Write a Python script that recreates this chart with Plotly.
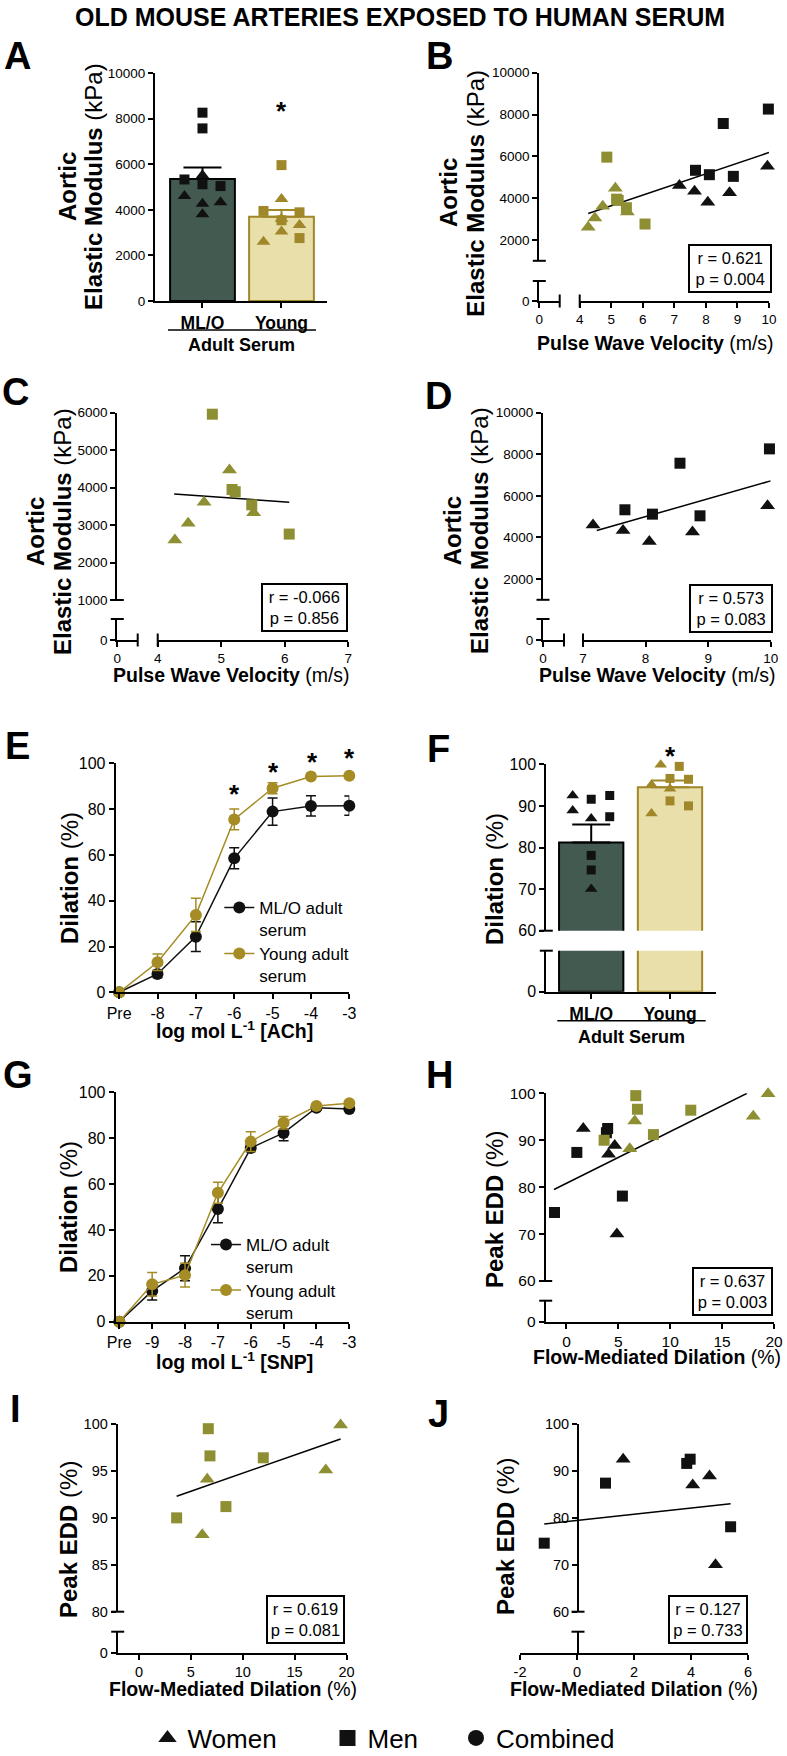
import plotly.graph_objects as go

# ============================ DATA ============================
GROUPS = ["ML/O", "Young"]

# Panel A: aortic elastic modulus (kPa), group mean and SEM
EM_MEAN = [5350, 3700]
EM_SEM = [510, 290]

# Individual subjects: pulse wave velocity (m/s) and aortic elastic modulus (kPa)
PWV_YOUNG_MEN = [4.86, 5.17, 5.22, 5.48, 6.07]
EM_YOUNG_MEN = [5960, 3950, 3890, 3540, 2760]
PWV_YOUNG_WOMEN = [4.27, 4.48, 4.73, 5.13, 5.51]
EM_YOUNG_WOMEN = [2600, 3050, 3610, 4470, 3330]
PWV_OLD_MEN = [7.67, 8.11, 8.55, 8.87, 9.98]
EM_OLD_MEN = [5330, 5120, 7570, 5040, 8260]
PWV_OLD_WOMEN = [7.16, 7.64, 8.06, 8.75, 9.95]
EM_OLD_WOMEN = [4600, 4330, 3800, 4260, 5520]

# Regression lines (end points)
FIT_B_X = [4.27, 10.0]
FIT_B_Y = [3260, 6180]
FIT_C_X = [4.26, 6.07]
FIT_C_Y = [3830, 3610]
FIT_D_X = [7.22, 10.0]
FIT_D_Y = [4330, 6720]

STATS_B = ("0.621", "0.004")
STATS_C = ("-0.066", "0.856")
STATS_D = ("0.573", "0.083")

# Panel E: ACh dose response (% dilation), mean and SEM
ACH_LABELS = ["Pre", "-8", "-7", "-6", "-5", "-4", "-3"]
ACH_MLO = [0, 8.0, 24.3, 58.5, 78.9, 81.4, 81.5]
ACH_MLO_SEM = [0, 1.5, 6.5, 4.6, 6.0, 4.4, 4.2]
ACH_YOUNG = [0, 13.1, 33.8, 75.5, 89.1, 94.2, 94.6]
ACH_YOUNG_SEM = [0, 3.6, 7.3, 4.5, 2.4, 1.0, 0.8]

# Panel F: peak EDD (%), group mean and SEM
EDD_MEAN = [81.2, 94.5]
EDD_SEM = [4.3, 1.6]

# Panel G: SNP dose response (% dilation), mean and SEM
SNP_LABELS = ["Pre", "-9", "-8", "-7", "-6", "-5", "-4", "-3"]
SNP_MLO = [0, 13.4, 23.3, 49.1, 75.7, 82.3, 93.3, 92.7]
SNP_MLO_SEM = [0, 3.9, 5.4, 6.0, 1.5, 3.4, 1.0, 1.0]
SNP_YOUNG = [0, 16.3, 20.3, 56.2, 78.5, 86.7, 94.0, 95.2]
SNP_YOUNG_SEM = [0, 5.1, 5.2, 4.6, 4.3, 2.7, 1.0, 1.0]

# Individual subjects: flow-mediated dilation (%) and peak EDD (%)
FMD_YOUNG_MEN = [6.68, 6.84, 11.98, 8.38, 3.63]
EDD_YOUNG_MEN = [99.5, 96.6, 96.4, 91.2, 90.0]
FMD_YOUNG_WOMEN = [19.43, 18.0, 6.58, 6.1]
EDD_YOUNG_WOMEN = [99.9, 95.1, 94.1, 88.2]
FMD_OLD_MEN = [-1.15, 1.0, 3.85, 3.97, 5.39]
EDD_OLD_MEN = [74.6, 87.4, 91.6, 92.5, 78.1]
FMD_OLD_WOMEN = [1.62, 4.06, 4.65, 4.86]
EDD_OLD_WOMEN = [92.5, 87.0, 88.9, 70.0]

FIT_H_X = [-1.2, 17.4]
FIT_H_Y = [79.5, 100.0]
FIT_I_X = [3.63, 19.43]
FIT_I_Y = [92.3, 98.4]
FIT_J_X = [-1.15, 5.39]
FIT_J_Y = [78.7, 83.0]

STATS_H = ("0.637", "0.003")
STATS_I = ("0.619", "0.081")
STATS_J = ("0.127", "0.733")

J_XTICKS = [-2, 0, 2, 4, 6]
LEGEND_ITEMS = ["Women", "Men", "Combined"]

# ============================ STYLE / LAYOUT ============================
W, H = 787, 1756
FONT = "Liberation Sans, Arial, Helvetica, sans-serif"
BLACK = "#111111"
DARK = "#435A51"
LIGHT = "#E9DFAA"
GOLD = "#A0882A"
OLIVE = "#8E8E33"
LGOLD = "#A58C25"

# jitter slots of the dots over the bars (A and F)
A_JIT_OLD_MEN = [-1, 0, 0, 1, 0]
A_JIT_OLD_WOMEN = [-1, 1, 0, 0, 0]
A_JIT_YOUNG_MEN = [0, -1, 1, 0, 1]
A_JIT_YOUNG_WOMEN = [-1, 0, 0, 0, 1]
F_JIT_OLD_MEN = [0, 1, 0, 1, 0]
F_JIT_OLD_WOMEN = [-1, 0, -1, 0]
F_JIT_YOUNG_MEN = [0.5, 0, 1, 0, 1]
F_JIT_YOUNG_WOMEN = [-0.5, -1, 0, -1]

traces = []
annotations = []
shapes = []
layout = dict(
    width=W, height=H,
    margin=dict(l=0, r=0, t=0, b=0, autoexpand=False),
    paper_bgcolor="white", plot_bgcolor="rgba(0,0,0,0)",
    font=dict(family=FONT, color="black"),
    showlegend=True, barmode="overlay",
    annotations=annotations, shapes=shapes,
)


def fx(p):
    return p / W


def fy(p):
    return 1.0 - p / H


AXIS_BASE = dict(showgrid=False, zeroline=False, showline=True, linecolor="black",
                 linewidth=2, ticks="outside", ticklen=5, tickwidth=2, tickcolor="black",
                 fixedrange=True, layer="above traces", tickformat="d")
_count = {"x": 0, "y": 0}


def tfont(size):
    return dict(size=size, family=FONT, color="black")


def new_axis(letter, **kw):
    _count[letter] += 1
    n = _count[letter]
    suf = "" if n == 1 else str(n)
    spec = dict(AXIS_BASE)
    spec.update(kw)
    layout[letter + "axis" + suf] = spec
    return letter + suf


def set_axis(ref, **kw):
    layout[ref[0] + "axis" + ref[1:]].update(kw)


def seg(x0, y0, x1, y1, w=2):
    shapes.append(dict(type="line", xref="paper", yref="paper", x0=fx(x0), y0=fy(y0),
                       x1=fx(x1), y1=fy(y1), line=dict(color="black", width=w), layer="above"))


def hcap(xc, y, half=6.5):
    seg(xc - half, y, xc + half, y)


def vcap(x, yc, half=6.5):
    seg(x, yc - half, x, yc + half)


def text(x, y, s, size, angle=0, xanchor="center", yanchor="middle", **kw):
    annotations.append(dict(x=fx(x), y=fy(y), xref="paper", yref="paper", text=s,
                            showarrow=False, font=tfont(size), textangle=angle,
                            xanchor=xanchor, yanchor=yanchor, **kw))


def star(x, y, size=26):
    text(x, y + 0.22 * size, "<b>*</b>", size)


def stat_box(left, right, bottom, stats, size=16.5):
    pad, bw = 3, 2
    annotations.append(dict(x=fx(right), y=fy(bottom), xref="paper", yref="paper",
                            text="r = %s<br>p = %s" % stats, showarrow=False,
                            font=tfont(size), xanchor="right", yanchor="bottom",
                            bordercolor="black", borderwidth=bw, borderpad=pad,
                            bgcolor="white", width=right - left - 2 * (pad + bw),
                            align="center"))


def dummy(xa, ya):
    traces.append(go.Scatter(x=[None], y=[None], xaxis=xa, yaxis=ya, mode="markers",
                             showlegend=False, hoverinfo="skip"))


def pts(xa, ya, x, y, symbol, color, size):
    traces.append(go.Scatter(x=x, y=y, xaxis=xa, yaxis=ya, mode="markers",
                             marker=dict(symbol=symbol, color=color, size=size, line=dict(width=0)),
                             cliponaxis=False, showlegend=False, hoverinfo="skip"))


def fit(xa, ya, x, y):
    traces.append(go.Scatter(x=x, y=y, xaxis=xa, yaxis=ya, mode="lines",
                             line=dict(color="black", width=1.5), cliponaxis=False,
                             showlegend=False, hoverinfo="skip"))


def corr_panel(axis_x, axis_y, up, stub_top, xmain, xstub=None, tick=13.5,
               stub_label="0", free_y=False, xticktext=None):
    top, bot, lo, hi, yt = up
    tf = tfont(tick)
    yu = new_axis("y", domain=[fy(bot), fy(top)], range=[lo, hi], tickvals=yt, tickfont=tf)
    ys = new_axis("y", domain=[fy(axis_y), fy(stub_top)], range=[0, 1],
                  tickvals=[0] if stub_label else [], ticktext=[stub_label] if stub_label else [],
                  tickfont=tf)
    ms, me, xr, xt = xmain
    xm = new_axis("x", domain=[fx(ms), fx(me)], range=xr, tickvals=xt, tickfont=tf, anchor=ys)
    if xticktext:
        set_axis(xm, ticktext=xticktext)
    if xstub:
        se, srange = xstub
        xs = new_axis("x", domain=[fx(axis_x), fx(se)], range=[0, srange], tickvals=[0],
                      ticktext=["0"], tickfont=tf, anchor=ys)
        set_axis(yu, anchor=xs)
        set_axis(ys, anchor=xs)
        dummy(xs, ys)
        dummy(xs, yu)
        dummy(xm, ys)
        vcap(se, axis_y)
        vcap(ms, axis_y)
    else:
        if free_y:
            set_axis(yu, anchor="free", position=fx(axis_x))
            set_axis(ys, anchor="free", position=fx(axis_x))
        else:
            set_axis(yu, anchor=xm)
            set_axis(ys, anchor=xm)
        dummy(xm, ys)
    hcap(axis_x, bot)
    hcap(axis_x, stub_top)
    return xm, yu


def sex_points(xa, ya, xm, ym, xw, yw, color, sq=11, tri=13):
    pts(xa, ya, xm, ym, "square", color, sq)
    pts(xa, ya, xw, yw, "triangle-up", color, tri)


def bars(xa, ya, means, sems, width, with_err):
    fills = [DARK, LIGHT]
    edges = ["black", GOLD]
    for i in range(len(GROUPS)):
        err = None
        if with_err:
            err = dict(type="data", array=[sems[i]], arrayminus=[0], symmetric=False,
                       color=edges[i], thickness=2, width=19)
        traces.append(go.Bar(x=[i], y=[means[i]], width=width, xaxis=xa, yaxis=ya,
                             marker=dict(color=fills[i], line=dict(color=edges[i], width=2)),
                             error_y=err, showlegend=False, hoverinfo="skip"))


def jit(base, slots, unit):
    return [base + s * unit for s in slots]


def curve(xa, ya, y, sem, color, name, legend):
    traces.append(go.Scatter(x=list(range(len(y))), y=y, xaxis=xa, yaxis=ya,
                             mode="lines+markers", name=name, legend=legend,
                             line=dict(color=color, width=1.5),
                             marker=dict(symbol="circle", size=12, color=color),
                             error_y=dict(type="data", array=sem, color=color, thickness=1.5, width=5),
                             cliponaxis=False, hoverinfo="skip", showlegend=True))


def legend_box(key, x_sym, y_top, size, yanchor="top"):
    layout[key] = dict(x=fx(x_sym - 20), y=fy(y_top), xanchor="left", yanchor=yanchor,
                       bgcolor="rgba(0,0,0,0)", borderwidth=0, font=tfont(size),
                       valign="top", itemclick=False, itemdoubleclick=False, tracegroupgap=0)


BOLD_GROUPS = ["<b>%s</b>" % g for g in GROUPS]
EM_TITLE = "<b>Elastic Modulus</b> (kPa)"
PWV_TITLE = "<b>Pulse Wave Velocity</b> (m/s)"
FMD_TITLE = "<b>Flow-Mediated Dilation</b> (%)"

# ---------------- title ----------------
text(400, 17, "<b>OLD MOUSE ARTERIES EXPOSED TO HUMAN SERUM</b>", 25)

# ---------------- Panel A ----------------
xa = new_axis("x", domain=[fx(155), fx(327)], range=[-0.601, 1.576], tickvals=[0, 1],
              ticktext=BOLD_GROUPS, tickfont=tfont(17.5))
ya = new_axis("y", domain=[fy(301), fy(73)], range=[0, 10000],
              tickvals=[0, 2000, 4000, 6000, 8000, 10000], tickfont=tfont(13.5))
set_axis(xa, anchor=ya)
set_axis(ya, anchor=xa)
bars(xa, ya, EM_MEAN, EM_SEM, 0.82, True)
JA = 0.228
sex_points(xa, ya, jit(0, A_JIT_OLD_MEN, JA), EM_OLD_MEN, jit(0, A_JIT_OLD_WOMEN, JA), EM_OLD_WOMEN, BLACK, 10, 12)
sex_points(xa, ya, jit(1, A_JIT_YOUNG_MEN, JA), EM_YOUNG_MEN, jit(1, A_JIT_YOUNG_WOMEN, JA), EM_YOUNG_WOMEN, GOLD, 10, 12)
star(281.5, 105)
seg(168, 330, 316, 330, 1.5)
text(241, 345, "<b>Adult Serum</b>", 18)
text(67, 187, "<b>Aortic</b>", 24, angle=-90)
text(93, 187, EM_TITLE, 24, angle=-90)
text(17.5, 56.5, "<b>A</b>", 38)

# ---------------- Panel B ----------------
xb, yb = corr_panel(539.3, 301, (72.7, 260.8, 1000, 10000, [2000, 4000, 6000, 8000, 10000]), 281,
                    (579.7, 769, [4, 10], [4, 5, 6, 7, 8, 9, 10]), xstub=(559.7, 0.65))
fit(xb, yb, FIT_B_X, FIT_B_Y)
sex_points(xb, yb, PWV_YOUNG_MEN, EM_YOUNG_MEN, PWV_YOUNG_WOMEN, EM_YOUNG_WOMEN, OLIVE)
sex_points(xb, yb, PWV_OLD_MEN, EM_OLD_MEN, PWV_OLD_WOMEN, EM_OLD_WOMEN, BLACK)
stat_box(687.3, 771.7, 293.3, STATS_B)
text(655, 343, PWV_TITLE, 19.5)
text(449, 193, "<b>Aortic</b>", 24, angle=-90)
text(475.7, 193, EM_TITLE, 24, angle=-90)
text(439, 56.5, "<b>B</b>", 38)

# ---------------- Panel C ----------------
xc, yc = corr_panel(117.3, 640, (412.7, 600, 1000, 6000, [1000, 2000, 3000, 4000, 5000, 6000]), 619,
                    (157.7, 348.3, [4, 7], [4, 5, 6, 7]), xstub=(137.7, 0.32))
fit(xc, yc, FIT_C_X, FIT_C_Y)
sex_points(xc, yc, PWV_YOUNG_MEN, EM_YOUNG_MEN, PWV_YOUNG_WOMEN, EM_YOUNG_WOMEN, OLIVE)
stat_box(261.7, 348.3, 631.7, STATS_C)
text(232, 675, PWV_TITLE, 19.5)
text(35, 532, "<b>Aortic</b>", 24, angle=-90)
text(62, 532, EM_TITLE, 24, angle=-90)
text(15, 391.5, "<b>C</b>", 38)

# ---------------- Panel D ----------------
xd, yd = corr_panel(543, 640, (412.7, 599.8, 1000, 10000, [2000, 4000, 6000, 8000, 10000]), 619,
                    (583, 770.7, [7, 10], [7, 8, 9, 10]), xstub=(564, 0.335))
fit(xd, yd, FIT_D_X, FIT_D_Y)
sex_points(xd, yd, PWV_OLD_MEN, EM_OLD_MEN, PWV_OLD_WOMEN, EM_OLD_WOMEN, BLACK)
stat_box(689, 773.3, 633.3, STATS_D)
text(657, 675, PWV_TITLE, 19.5)
text(452.3, 531, "<b>Aortic</b>", 24, angle=-90)
text(479, 531, EM_TITLE, 24, angle=-90)
text(438, 396, "<b>D</b>", 38)

# ---------------- Panel E ----------------
xe = new_axis("x", domain=[fx(115.7), fx(349.3)], range=[-0.09, len(ACH_LABELS) - 1],
              tickvals=list(range(len(ACH_LABELS))), ticktext=ACH_LABELS, tickfont=tfont(16))
ye = new_axis("y", domain=[fy(992.3), fy(763.3)], range=[0, 100],
              tickvals=[0, 20, 40, 60, 80, 100], tickfont=tfont(16))
set_axis(xe, anchor=ye)
set_axis(ye, anchor=xe)
curve(xe, ye, ACH_MLO, ACH_MLO_SEM, BLACK, "ML/O adult<br>serum", "legend")
curve(xe, ye, ACH_YOUNG, ACH_YOUNG_SEM, LGOLD, "Young adult<br>serum", "legend2")
legend_box("legend", 239.3, 890, 17)
legend_box("legend2", 239.3, 936, 17)
for px, py in zip([235, 273.3, 312.3, 349.3], [788.3, 766, 756, 752.7]):
    star(px, py)
text(234, 1030, "<b>log mol L<sup>-1</sup> [ACh]</b>", 19.5)
text(69, 878, "<b>Dilation</b> (%)", 24, angle=-90)
text(17.5, 746, "<b>E</b>", 38)

# ---------------- Panel F ----------------
xf = new_axis("x", domain=[fx(546.3), fx(715.7)], range=[-0.57, 1.58], tickvals=[0, 1],
              ticktext=BOLD_GROUPS, tickfont=tfont(17.5))
yfu = new_axis("y", domain=[fy(930.7), fy(764.3)], range=[60, 100],
               tickvals=[60, 70, 80, 90, 100], tickfont=tfont(16))
yfl = new_axis("y", domain=[fy(991.7), fy(950.7)], range=[0, 10], tickvals=[0], tickfont=tfont(16))
set_axis(xf, anchor=yfl)
set_axis(yfu, anchor=xf)
set_axis(yfl, anchor=xf)
bars(xf, yfl, EDD_MEAN, EDD_SEM, 0.816, False)
bars(xf, yfu, EDD_MEAN, EDD_SEM, 0.816, True)
JF = 0.235
sex_points(xf, yfu, jit(0, F_JIT_OLD_MEN, JF), EDD_OLD_MEN, jit(0, F_JIT_OLD_WOMEN, JF), EDD_OLD_WOMEN, BLACK, 9, 11)
sex_points(xf, yfu, jit(1, F_JIT_YOUNG_MEN, JF), EDD_YOUNG_MEN, jit(1, F_JIT_YOUNG_WOMEN, JF), EDD_YOUNG_WOMEN, GOLD, 9, 11)
hcap(546.3, 930.7)
hcap(546.3, 950.7)
star(670, 750)
seg(557.3, 1020.7, 705.7, 1020.7, 1.5)
text(631, 1036.7, "<b>Adult Serum</b>", 18)
text(494, 879, "<b>Dilation</b> (%)", 24, angle=-90)
text(438, 748.5, "<b>F</b>", 38)

# ---------------- Panel G ----------------
xg = new_axis("x", domain=[fx(115.7), fx(349.3)], range=[-0.11, len(SNP_LABELS) - 1],
              tickvals=list(range(len(SNP_LABELS))), ticktext=SNP_LABELS, tickfont=tfont(16))
yg = new_axis("y", domain=[fy(1321.7), fy(1092.3)], range=[0, 100],
              tickvals=[0, 20, 40, 60, 80, 100], tickfont=tfont(16))
set_axis(xg, anchor=yg)
set_axis(yg, anchor=xg)
curve(xg, yg, SNP_MLO, SNP_MLO_SEM, BLACK, "ML/O adult<br>serum", "legend3")
curve(xg, yg, SNP_YOUNG, SNP_YOUNG_SEM, LGOLD, "Young adult<br>serum", "legend4")
legend_box("legend3", 226, 1227, 17)
legend_box("legend4", 226, 1272.5, 17)
text(234, 1360.7, "<b>log mol L<sup>-1</sup> [SNP]</b>", 19.5)
text(68, 1207, "<b>Dilation</b> (%)", 24, angle=-90)
text(17.5, 1074.5, "<b>G</b>", 38)

# ---------------- Panel H ----------------
xh, yh = corr_panel(545.7, 1321.7, (1093.3, 1281, 60, 100, [60, 70, 80, 90, 100]), 1300.7,
                    (545.7, 774, [-2, 20], [0, 5, 10, 15, 20]), tick=15.5)
fit(xh, yh, FIT_H_X, FIT_H_Y)
sex_points(xh, yh, FMD_OLD_MEN, EDD_OLD_MEN, FMD_OLD_WOMEN, EDD_OLD_WOMEN, BLACK)
sex_points(xh, yh, FMD_YOUNG_MEN, EDD_YOUNG_MEN, FMD_YOUNG_WOMEN, EDD_YOUNG_WOMEN, OLIVE)
stat_box(692.3, 773.3, 1315.7, STATS_H)
text(657, 1357.3, FMD_TITLE, 19.5)
text(494, 1210, "<b>Peak EDD</b> (%)", 24, angle=-90)
text(439, 1075, "<b>H</b>", 38)

# ---------------- Panel I ----------------
xi, yi = corr_panel(117.7, 1652.7, (1424, 1611.7, 80, 100, [80, 85, 90, 95, 100]), 1631.7,
                    (117.7, 346.5, [-2.05, 20], [0, 5, 10, 15, 20]), tick=14.5)
fit(xi, yi, FIT_I_X, FIT_I_Y)
sex_points(xi, yi, FMD_YOUNG_MEN, EDD_YOUNG_MEN, FMD_YOUNG_WOMEN, EDD_YOUNG_WOMEN, OLIVE)
stat_box(266, 345, 1644.3, STATS_I)
text(232.5, 1689.3, FMD_TITLE, 19.5)
text(68, 1540, "<b>Peak EDD</b> (%)", 24, angle=-90)
text(15, 1409, "<b>I</b>", 38)

# ---------------- Panel J ----------------
xj, yj = corr_panel(578, 1652.7, (1424, 1611.7, 60, 100, [60, 70, 80, 90, 100]), 1631.7,
                    (520, 748, [-2, 6], J_XTICKS), tick=14.5, stub_label=None, free_y=True,
                    xticktext=[str(v) for v in J_XTICKS])
fit(xj, yj, FIT_J_X, FIT_J_Y)
sex_points(xj, yj, FMD_OLD_MEN, EDD_OLD_MEN, FMD_OLD_WOMEN, EDD_OLD_WOMEN, BLACK)
stat_box(667.5, 747.5, 1644.3, STATS_J)
text(633.75, 1689, FMD_TITLE, 19.5)
text(505, 1537, "<b>Peak EDD</b> (%)", 24, angle=-90)
text(438, 1414, "<b>J</b>", 38)

# ---------------- bottom legend ----------------
LEG_SYMBOLS = ["triangle-up", "square", "circle"]
LEG_X = [167.5, 347.5, 476]
for i, (name, sym, lx) in enumerate(zip(LEGEND_ITEMS, LEG_SYMBOLS, LEG_X)):
    key = "legend%d" % (5 + i)
    traces.append(go.Scatter(x=[None], y=[None], xaxis=xa, yaxis=ya, mode="markers",
                             marker=dict(symbol=sym, size=16, color=BLACK), name=name,
                             legend=key, showlegend=True, hoverinfo="skip"))
    legend_box(key, lx, 1738, 26, yanchor="middle")

fig = go.Figure(data=traces, layout=layout)
fig.write_html(
    "out.html",
    config={"displayModeBar": False},
    post_script="document.body.style.margin='0px';document.body.style.overflow='hidden';",
)
